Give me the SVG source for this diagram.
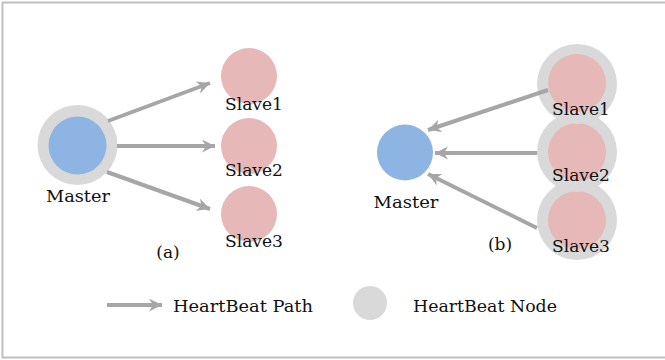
<svg xmlns="http://www.w3.org/2000/svg" width="665" height="360" viewBox="0 0 665 360">
  <style>
    .ring { fill: #d9d9d9; }
    .master { fill: #8eb4e3; }
    .slave { fill: #e6b9b8; }
    .lbl { font-family: "DejaVu Serif", "Liberation Serif", serif; font-size: 17px; fill: #111; text-anchor: middle; }
    .lbl-l { font-family: "DejaVu Serif", "Liberation Serif", serif; font-size: 17px; fill: #111; }
    .hb { stroke: #a6a6a6; stroke-width: 4; fill: none; marker-end: url(#head); }
  </style>
  <defs>
    <marker id="head" markerUnits="userSpaceOnUse" markerWidth="14" markerHeight="13" refX="13" refY="6.5" orient="auto" viewBox="0 0 14 13">
      <path d="M0,0 L13,6.5 L0,13 L4,6.5 Z" fill="#a6a6a6"/>
    </marker>
  </defs>

  <rect x="2.5" y="2.5" width="680" height="355" fill="#fff" stroke="#c0c0c0" stroke-width="2"/>

  <!-- (a) master sends heartbeats to slaves -->
  <g id="a-master">
    <circle class="ring" cx="77.5" cy="145" r="40"/>
    <circle class="master" cx="77.5" cy="145.5" r="29"/>
    <text class="lbl" x="78" y="202" textLength="64" lengthAdjust="spacingAndGlyphs">Master</text>
  </g>
  <g id="a-slave3">
    <circle class="slave" cx="249" cy="214" r="28"/>
    <text class="lbl" x="254" y="247" textLength="58" lengthAdjust="spacingAndGlyphs">Slave3</text>
  </g>
  <g id="a-slave2">
    <circle class="slave" cx="249" cy="146" r="28"/>
    <text class="lbl" x="254" y="176" textLength="58" lengthAdjust="spacingAndGlyphs">Slave2</text>
  </g>
  <g id="a-slave1">
    <circle class="slave" cx="249" cy="76" r="28"/>
    <text class="lbl" x="254" y="110" textLength="58" lengthAdjust="spacingAndGlyphs">Slave1</text>
  </g>
  <text id="cap-a" class="lbl" x="168" y="258">(a)</text>

  <!-- (b) slaves send heartbeats to master -->
  <g id="b-master">
    <circle class="master" cx="405" cy="152.5" r="28"/>
    <text class="lbl" x="406" y="208" textLength="65" lengthAdjust="spacingAndGlyphs">Master</text>
  </g>
  <g id="b-slave3">
    <circle class="ring" cx="577" cy="220" r="40"/>
    <circle class="slave" cx="577" cy="220" r="29"/>
    <text class="lbl" x="581" y="252" textLength="58" lengthAdjust="spacingAndGlyphs">Slave3</text>
  </g>
  <g id="b-slave2">
    <circle class="ring" cx="577" cy="152" r="40"/>
    <circle class="slave" cx="577" cy="152" r="29"/>
    <text class="lbl" x="581" y="181" textLength="58" lengthAdjust="spacingAndGlyphs">Slave2</text>
  </g>
  <g id="b-slave1">
    <circle class="ring" cx="577" cy="84" r="40"/>
    <circle class="slave" cx="577" cy="83" r="29"/>
    <text class="lbl" x="581" y="115" textLength="58" lengthAdjust="spacingAndGlyphs">Slave1</text>
  </g>
  <text id="cap-b" class="lbl" x="500" y="250">(b)</text>

  <!-- heartbeat paths -->
  <g id="connectors">
    <line class="hb" x1="108" y1="121" x2="210" y2="83"/>
    <line class="hb" x1="117" y1="146" x2="215" y2="146"/>
    <line class="hb" x1="107" y1="172" x2="210" y2="209"/>
    <line class="hb" x1="548" y1="90" x2="428" y2="130"/>
    <line class="hb" x1="537" y1="153" x2="435" y2="153"/>
    <line class="hb" x1="537" y1="228" x2="428" y2="174"/>
  </g>

  <!-- legend -->
  <g id="legend">
    <line class="hb" x1="107" y1="305" x2="162" y2="305"/>
    <text class="lbl-l" x="173" y="312" textLength="140" lengthAdjust="spacingAndGlyphs">HeartBeat Path</text>
    <circle class="ring" cx="370" cy="303" r="17"/>
    <text class="lbl-l" x="413" y="312" textLength="144" lengthAdjust="spacingAndGlyphs">HeartBeat Node</text>
  </g>
</svg>
